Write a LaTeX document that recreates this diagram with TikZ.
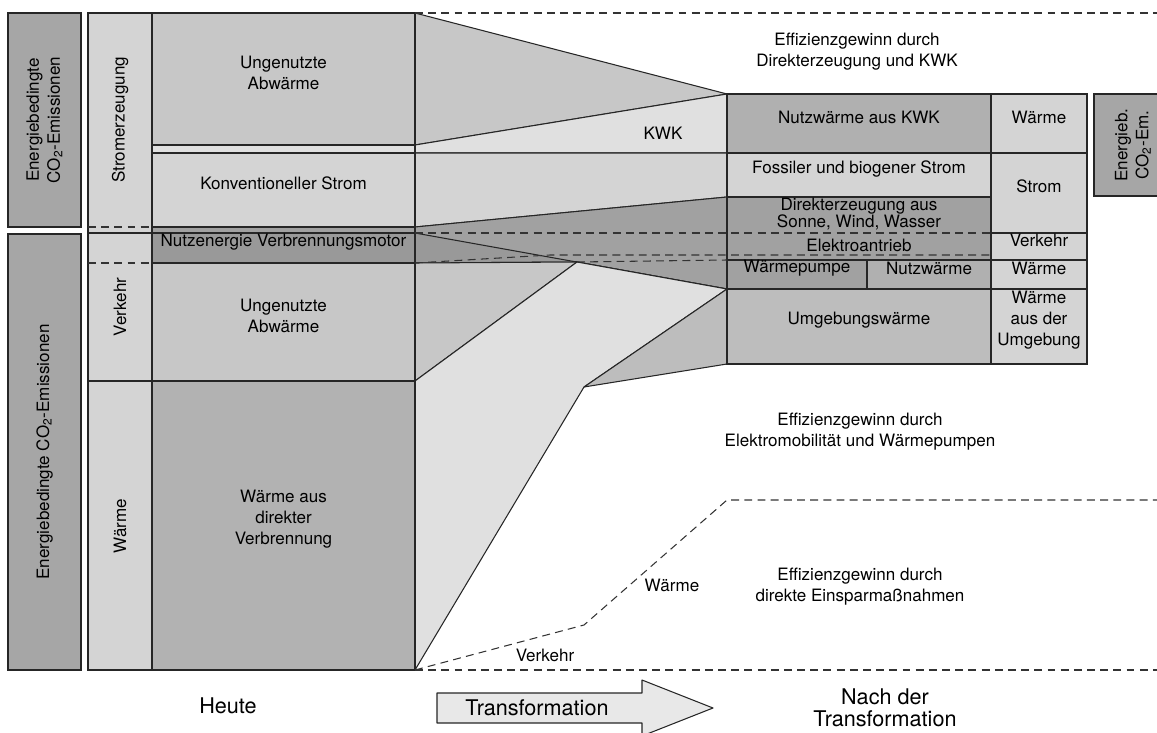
\documentclass[tikz,border=0pt]{standalone}
\usepackage{fontspec}
\setmainfont{TeX Gyre Heros}
\usetikzlibrary{fit}

\definecolor{cDark}{gray}{0.65}
\definecolor{cLight}{gray}{0.83}
\definecolor{cMid}{gray}{0.78}
\definecolor{cPale}{gray}{0.88}
\definecolor{cDeep}{gray}{0.63}
\definecolor{cMotor}{gray}{0.60}
\definecolor{cHeat}{gray}{0.70}
\definecolor{cKWK}{gray}{0.69}
\definecolor{cAmb}{gray}{0.74}
\definecolor{cArrow}{gray}{0.91}

\begin{document}
\begin{tikzpicture}[x=0.02cm, y=-0.02cm,
    box/.style={draw=black!85, line width=0.6pt, inner sep=0pt, align=center,
                font=\fontsize{9.7}{11.9}\selectfont},
    flow/.style={draw=black!85, line width=0.6pt, line join=round},
    gain/.style={draw=black!80, line width=0.6pt, dash pattern=on 4.5pt off 3pt},
    txt/.style={align=center, font=\fontsize{9.7}{11.9}\selectfont},
    big/.style={align=center, font=\fontsize{12.3}{12.5}\selectfont}
]
    \useasboundingbox (0,0) rectangle (1157,733);

    % Flows
    \coordinate (wp) at (577,262);
    \coordinate (kn) at (584,387);
    \draw[flow, fill=cMid] (415,13) -- (727,94) -- (415,145) -- cycle;
    \draw[flow, fill=cPale] (415,145) -- (727,94) -- (727,153) -- (415,153) -- cycle;
    \node[txt] (kwk) at (663,133) {KWK};
    \draw[flow, fill=cLight] (415,153) -- (727,153) -- (727,197) -- (415,227) -- cycle;
    \draw[flow, fill=cDeep] (415,227) -- (727,197) -- (727,289) -- (wp) -- (415,263) -- cycle;
    \fill[cMotor] (415,233) -- (wp) -- (415,263) -- cycle;
    \draw[flow] (415,233) -- (727,289);
    \draw[flow] (415,263) -- (wp);
    \draw[flow, fill=cMid] (415,263) -- (wp) -- (415,381) -- cycle;
    \draw[flow, fill=cPale] (wp) -- (727,289) -- (kn) -- (415,670) -- (415,381) -- cycle;
    \draw[flow, fill=cAmb] (kn) -- (727,289) -- (727,364) -- cycle;

    % Heute
    \node[box, fill=cDark, fit={(8,13)(81,227)}] (emA) {};
    \node[txt, rotate=90] at (emA) {Energiebedingte\\CO\textsubscript{2}-Emissionen};
    \node[box, fill=cDark, fit={(8,234)(81,670)}] (emB) {};
    \node[txt, rotate=90] at (emB) {Energiebedingte CO\textsubscript{2}-Emissionen};

    \node[box, fill=cLight, fit={(88,13)(152,670)}] (sect) {};
    \draw[gain] (88,227) -- (152,227);
    \draw[flow] (88,233) -- (152,233);
    \draw[gain] (88,263) -- (152,263);
    \draw[flow] (88,381) -- (152,381);
    \node[txt, rotate=90] (strom) at (120,120) {Stromerzeugung};
    \node[txt, rotate=90] (verk) at (120,307) {Verkehr};
    \node[txt, rotate=90] (waerm) at (120,526) {Wärme};

    \node[box, fill=cMid, fit={(152,13)(415,145)}] (abwA) {Ungenutzte\\Abwärme};
    \node[box, fill=cPale, fit={(152,145)(415,153)}] (kwkA) {};
    \node[box, fill=cLight, fit={(152,153)(415,227)}] (konv) {Konventioneller Strom};
    \node[box, fill=cDeep, fit={(152,227)(415,233)}] (direktA) {};
    \node[box, fill=cMotor, fit={(152,233)(415,263)}] (motor) {Nutzenergie Verbrennungsmotor};
    \node[box, fill=cMid, fit={(152,263)(415,381)}] (abwB) {Ungenutzte\\Abwärme};
    \node[box, fill=cHeat, fit={(152,381)(415,670)}] (verbr) {Wärme aus\\direkter\\Verbrennung};

    % Nach der Transformation
    \node[box, fill=cKWK, fit={(727,94)(991,153)}] (nwk) {Nutzwärme aus KWK};
    \node[box, fill=cLight, fit={(991,94)(1087,153)}] (rWa) {Wärme};
    \node[box, fill=cLight, fit={(727,153)(991,197)}] (foss) {Fossiler und biogener Strom};
    \node[box, fill=cDeep, fit={(727,197)(991,260)}] (ee) {};
    \node[txt, font=\fontsize{9.7}{9.6}\selectfont] (sww) at (859,214) {Direkterzeugung aus\\Sonne, Wind, Wasser};
    \node[txt] (eant) at (859,245) {Elektroantrieb};
    \node[box, fill=cLight, fit={(991,153)(1087,233)}] (rSt) {Strom};
    \node[box, fill=cLight, fit={(991,233)(1087,260)}] (rVk) {Verkehr};
    \node[box, fill=cDeep, fit={(727,260)(867,289)}] (wpu) {Wärmepumpe};
    \node[box, fill=cKWK, fit={(867,260)(991,289)}] (nwp) {Nutzwärme};
    \node[box, fill=cLight, fit={(991,260)(1087,289)}] (rWb) {Wärme};
    \node[box, fill=cAmb, fit={(727,289)(991,364)}] (umg) {Umgebungswärme};
    \node[box, fill=cLight, fit={(991,289)(1087,364)}] (rWc) {Wärme\\aus der\\Umgebung};
    \node[box, fill=cDark, fit={(1094,94)(1172,196)}] (emC) {};
    \node[txt, rotate=90] at (emC) {Energieb.\\CO\textsubscript{2}-Em.};

    % Effizienzgewinne
    \draw[gain] (415,13) -- (1157,13);
    \draw[gain] (415,233) -- (991,233);
    \draw[gain] (415,263) -- (550,255) -- (991,255);
    \draw[gain] (wp) -- (727,260);
    \draw[gain] (415,670) -- (1157,670);
    \draw[gain] (415,670) -- (584,625) -- (727,500) -- (1157,500);
    \node[txt] (gainA) at (857,52) {Effizienzgewinn durch\\Direkterzeugung und KWK};
    \node[txt] (gainB) at (860,432) {Effizienzgewinn durch\\Elektromobilität und Wärmepumpen};
    \node[txt] (gainC) at (860,587) {Effizienzgewinn durch\\direkte Einsparmaßnahmen};
    \node[txt] (lw) at (672,585) {Wärme};
    \node[txt] (lv) at (545,655) {Verkehr};

    % Unten
    \node[big] (heute) at (228,706) {Heute};
    \draw[flow, fill=cArrow] (437,693) -- (642,693) -- (642,680) -- (713,708) -- (642,736)
        -- (642,723) -- (437,723) -- cycle;
    \node[big] (trans) at (537,708) {Transformation};
    \node[big] (nach) at (885,708) {Nach der\\Transformation};
\end{tikzpicture}
\end{document}
